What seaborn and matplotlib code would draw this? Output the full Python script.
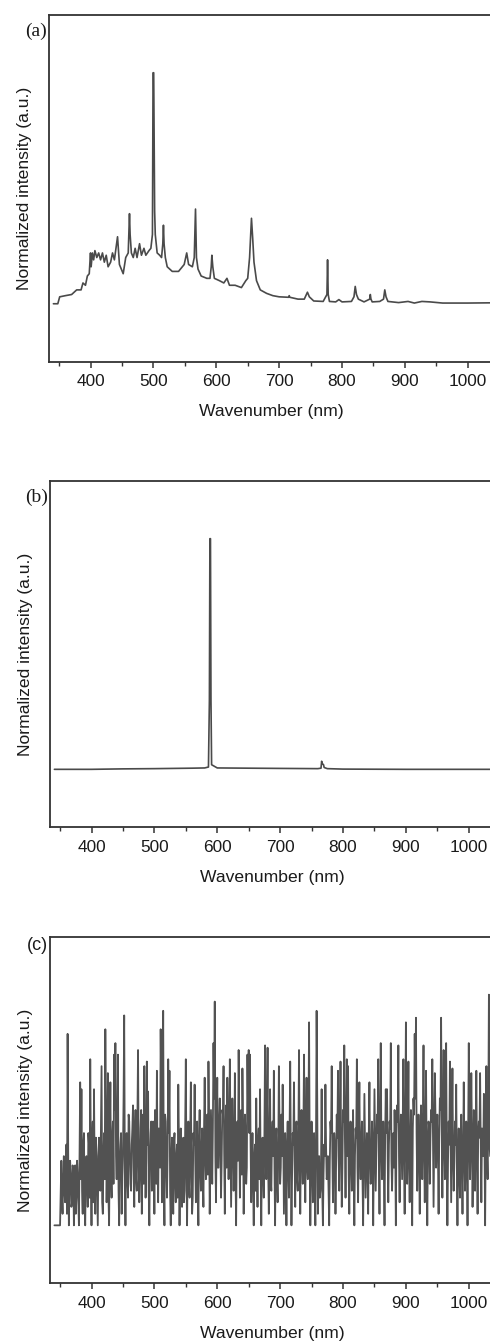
import numpy as np
import pandas as pd
import matplotlib
matplotlib.use("Agg")
import matplotlib.pyplot as plt
import seaborn as sns
from matplotlib.ticker import MultipleLocator

# ---------------- data ----------------
# Panel (a): broadband emission spectrum (wavelength nm, normalized intensity)
a_wl = [341, 348, 351, 360, 370, 378, 385, 388, 392, 395, 398, 400, 401, 403, 405, 407,
        410, 413, 416, 419, 422, 425, 428, 432, 435, 438, 441, 443, 446, 449, 452, 456,
        460, 461, 462, 463, 465, 468, 471, 474, 478, 481, 485, 488, 493, 496, 498.5, 499.5,
        500.5, 502, 503, 506, 510, 513, 515, 516, 517, 519, 522, 530, 540, 546, 549, 553,
        556, 562, 565, 567, 568.5, 571, 576, 585, 590, 592, 593, 594.5, 597, 605, 612, 617,
        621, 630, 640, 647, 650, 653, 656, 658, 660, 664, 670, 680, 690, 700, 715, 716,
        717, 730, 740, 745, 748, 755, 770, 776, 777, 778, 780, 790, 795, 800, 815, 819,
        821, 823, 826, 835, 844, 845, 846, 848, 860, 866, 868, 870, 873, 890, 905, 915,
        927, 940, 960, 1000, 1036]
a_int = [0.0, 0.0, 0.03, 0.035, 0.04, 0.06, 0.06, 0.09, 0.08, 0.12, 0.13, 0.22, 0.16, 0.22, 0.19, 0.23,
         0.20, 0.22, 0.19, 0.22, 0.18, 0.21, 0.16, 0.18, 0.22, 0.19, 0.25, 0.29, 0.17, 0.15, 0.13, 0.20,
         0.22, 0.30, 0.39, 0.30, 0.22, 0.20, 0.24, 0.20, 0.26, 0.21, 0.24, 0.21, 0.23, 0.24, 0.30, 1.0,
         1.0, 0.40, 0.30, 0.22, 0.21, 0.20, 0.26, 0.34, 0.26, 0.20, 0.16, 0.14, 0.14, 0.16, 0.17, 0.22,
         0.17, 0.16, 0.20, 0.41, 0.20, 0.15, 0.12, 0.11, 0.11, 0.16, 0.21, 0.16, 0.11, 0.10, 0.09, 0.11,
         0.08, 0.08, 0.07, 0.10, 0.11, 0.20, 0.37, 0.28, 0.18, 0.10, 0.06, 0.045, 0.035, 0.03, 0.028, 0.035,
         0.028, 0.02, 0.02, 0.05, 0.03, 0.012, 0.01, 0.04, 0.19, 0.04, 0.01, 0.008, 0.018, 0.008, 0.01, 0.03,
         0.075, 0.04, 0.02, 0.008, 0.02, 0.04, 0.02, 0.008, 0.01, 0.02, 0.06, 0.03, 0.01, 0.005, 0.01, 0.003,
         0.01, 0.008, 0.003, 0.003, 0.004]

# Panel (b): single Na line spectrum
b_wl = [341, 400, 450, 500, 560, 580, 586, 587.5, 588.3, 589.2, 590, 591, 600, 650, 700,
        760, 765, 766, 767, 769, 770, 775, 800, 900, 1000, 1036]
b_int = [0.0, 0.0, 0.002, 0.003, 0.005, 0.006, 0.01, 0.3, 1.0, 1.0, 0.3, 0.02, 0.006, 0.005, 0.004,
         0.003, 0.005, 0.035, 0.025, 0.02, 0.008, 0.003, 0.001, 0.0, 0.0, 0.0]

# Panel (c): noise-like spectrum sampled every 1 nm from 352 nm
# (even-nm samples and odd-nm samples listed separately), leading flat segment at 0
c_lead_wl = [341, 350]
c_lead_int = [0.0, 0.0]
c_start = 352
c_int_even = [   # 352, 354, ..., 1034
    0.28, 0.05, 0.30, 0.10, 0.35, 0.83, 0.00, 0.28, 0.08, 0.26,
    0.00, 0.26, 0.12, 0.22, 0.00, 0.62, 0.59, 0.05, 0.40, 0.00,
    0.30, 0.08, 0.35, 0.72, 0.00, 0.45, 0.59, 0.05, 0.30, 0.00,
    0.38, 0.15, 0.69, 0.05, 0.40, 0.85, 0.10, 0.66, 0.00, 0.62,
    0.12, 0.45, 0.74, 0.79, 0.20, 0.74, 0.00, 0.35, 0.05, 0.30,
    0.91, 0.00, 0.40, 0.12, 0.45, 0.18, 0.35, 0.52, 0.08, 0.50,
    0.15, 0.76, 0.10, 0.42, 0.05, 0.48, 0.69, 0.12, 0.71, 0.58,
    0.00, 0.40, 0.15, 0.45, 0.05, 0.38, 0.67, 0.10, 0.40, 0.85,
    0.10, 0.93, 0.00, 0.45, 0.12, 0.72, 0.67, 0.00, 0.38, 0.05,
    0.40, 0.10, 0.35, 0.61, 0.00, 0.42, 0.08, 0.38, 0.15, 0.72,
    0.00, 0.45, 0.12, 0.62, 0.05, 0.40, 0.61, 0.10, 0.45, 0.00,
    0.50, 0.15, 0.42, 0.08, 0.64, 0.20, 0.48, 0.71, 0.05, 0.50,
    0.18, 0.79, 0.97, 0.10, 0.64, 0.25, 0.55, 0.12, 0.50, 0.69,
    0.05, 0.52, 0.64, 0.20, 0.72, 0.08, 0.55, 0.15, 0.66, 0.00,
    0.45, 0.76, 0.12, 0.50, 0.68, 0.05, 0.48, 0.18, 0.74, 0.76,
    0.74, 0.10, 0.40, 0.00, 0.35, 0.55, 0.08, 0.42, 0.59, 0.00,
    0.38, 0.12, 0.78, 0.20, 0.77, 0.05, 0.59, 0.15, 0.45, 0.67,
    0.00, 0.42, 0.10, 0.69, 0.18, 0.48, 0.61, 0.05, 0.40, 0.00,
    0.45, 0.12, 0.71, 0.00, 0.40, 0.62, 0.08, 0.45, 0.15, 0.76,
    0.05, 0.50, 0.18, 0.74, 0.10, 0.64, 0.20, 0.88, 0.00, 0.45,
    0.10, 0.40, 0.00, 0.93, 0.05, 0.30, 0.15, 0.59, 0.00, 0.35,
    0.61, 0.20, 0.30, 0.00, 0.45, 0.69, 0.10, 0.40, 0.05, 0.48,
    0.67, 0.15, 0.71, 0.08, 0.50, 0.78, 0.12, 0.72, 0.69, 0.05,
    0.45, 0.15, 0.50, 0.00, 0.42, 0.72, 0.10, 0.62, 0.20, 0.45,
    0.00, 0.57, 0.12, 0.40, 0.05, 0.62, 0.18, 0.45, 0.00, 0.59,
    0.15, 0.48, 0.72, 0.05, 0.79, 0.20, 0.45, 0.00, 0.59, 0.59,
    0.10, 0.45, 0.79, 0.15, 0.40, 0.50, 0.00, 0.52, 0.78, 0.10,
    0.48, 0.20, 0.72, 0.05, 0.88, 0.18, 0.71, 0.10, 0.50, 0.00,
    0.55, 0.83, 0.90, 0.15, 0.48, 0.05, 0.52, 0.20, 0.78, 0.10,
    0.67, 0.00, 0.45, 0.18, 0.50, 0.72, 0.08, 0.66, 0.25, 0.48,
    0.05, 0.55, 0.90, 0.12, 0.76, 0.20, 0.79, 0.00, 0.45, 0.71,
    0.10, 0.68, 0.15, 0.45, 0.61, 0.00, 0.42, 0.12, 0.48, 0.05,
    0.62, 0.15, 0.45, 0.00, 0.79, 0.20, 0.66, 0.08, 0.50, 0.15,
    0.67, 0.05, 0.45, 0.66, 0.10, 0.40, 0.57, 0.00, 0.69, 0.20,
    1.00, 0.30,
]
c_int_odd = [   # 353, 355, ..., 1033
    0.12, 0.20, 0.15, 0.25, 0.05, 0.30, 0.18, 0.22, 0.10, 0.24,
    0.15, 0.05, 0.28, 0.10, 0.32, 0.20, 0.15, 0.35, 0.08, 0.25,
    0.18, 0.40, 0.12, 0.28, 0.35, 0.10, 0.22, 0.38, 0.15, 0.30,
    0.25, 0.42, 0.10, 0.30, 0.20, 0.45, 0.28, 0.12, 0.35, 0.22,
    0.38, 0.18, 0.50, 0.30, 0.42, 0.15, 0.28, 0.40, 0.20, 0.55,
    0.25, 0.35, 0.20, 0.48, 0.30, 0.15, 0.42, 0.25, 0.38, 0.20,
    0.45, 0.30, 0.22, 0.50, 0.35, 0.18, 0.42, 0.28, 0.35, 0.15,
    0.30, 0.45, 0.22, 0.35, 0.50, 0.18, 0.28, 0.42, 0.25, 0.55,
    0.35, 0.20, 0.48, 0.25, 0.30, 0.40, 0.15, 0.28, 0.22, 0.35,
    0.18, 0.30, 0.12, 0.38, 0.25, 0.20, 0.35, 0.10, 0.42, 0.22,
    0.30, 0.18, 0.40, 0.25, 0.12, 0.35, 0.28, 0.22, 0.15, 0.38,
    0.25, 0.32, 0.20, 0.42, 0.30, 0.38, 0.22, 0.45, 0.28, 0.35,
    0.42, 0.55, 0.30, 0.40, 0.25, 0.45, 0.35, 0.28, 0.48, 0.32,
    0.38, 0.25, 0.45, 0.35, 0.42, 0.30, 0.40, 0.28, 0.22, 0.35,
    0.28, 0.42, 0.35, 0.22, 0.45, 0.30, 0.38, 0.25, 0.48, 0.40,
    0.35, 0.25, 0.18, 0.30, 0.15, 0.28, 0.35, 0.20, 0.25, 0.30,
    0.22, 0.40, 0.32, 0.45, 0.25, 0.35, 0.20, 0.38, 0.30, 0.25,
    0.35, 0.20, 0.30, 0.42, 0.25, 0.30, 0.38, 0.22, 0.28, 0.35,
    0.25, 0.40, 0.30, 0.22, 0.35, 0.28, 0.42, 0.20, 0.38, 0.30,
    0.35, 0.28, 0.42, 0.30, 0.38, 0.25, 0.45, 0.32, 0.22, 0.30,
    0.25, 0.18, 0.35, 0.55, 0.20, 0.12, 0.25, 0.15, 0.22, 0.30,
    0.35, 0.22, 0.15, 0.28, 0.40, 0.32, 0.25, 0.35, 0.28, 0.38,
    0.30, 0.42, 0.35, 0.25, 0.45, 0.38, 0.40, 0.30, 0.22, 0.35,
    0.28, 0.35, 0.22, 0.30, 0.38, 0.25, 0.42, 0.30, 0.35, 0.20,
    0.30, 0.35, 0.25, 0.28, 0.40, 0.30, 0.22, 0.35, 0.28, 0.38,
    0.32, 0.40, 0.30, 0.45, 0.35, 0.28, 0.25, 0.38, 0.40, 0.30,
    0.35, 0.42, 0.28, 0.30, 0.25, 0.35, 0.40, 0.45, 0.30, 0.38,
    0.35, 0.45, 0.30, 0.42, 0.38, 0.40, 0.28, 0.35, 0.30, 0.42,
    0.48, 0.55, 0.40, 0.35, 0.30, 0.38, 0.35, 0.45, 0.32, 0.40,
    0.30, 0.35, 0.42, 0.38, 0.45, 0.40, 0.35, 0.48, 0.38, 0.30,
    0.38, 0.50, 0.42, 0.45, 0.35, 0.40, 0.30, 0.28, 0.35, 0.42,
    0.38, 0.30, 0.28, 0.35, 0.25, 0.30, 0.22, 0.35, 0.28, 0.30,
    0.35, 0.28, 0.30, 0.42, 0.38, 0.35, 0.40, 0.30, 0.35, 0.38,
    0.32, 0.40, 0.38, 0.35, 0.42, 0.30, 0.35, 0.40, 0.30, 0.45,
    0.35,
]

panel_labels = ["(a)", "(b)", "(c)"]
x_label = "Wavenumber (nm)"
y_label = "Normalized intensity (a.u.)"

# ---------------- style ----------------
sns.set_style("ticks")
plt.rcParams["font.family"] = ["Liberation Sans", "DejaVu Sans"]
plt.rcParams["axes.edgecolor"] = "#333333"
plt.rcParams["xtick.color"] = "#333333"

W, H = 490, 1341
fig = plt.figure(figsize=(W / 100, H / 100), dpi=100)

def frac_rect(left_px, top_px, bottom_px, xlim, px_per_nm):
    width_px = (xlim[1] - xlim[0]) * px_per_nm
    return [left_px / W, 1 - bottom_px / H, width_px / W, (bottom_px - top_px) / H]

xlim = (334, 1042)
ppn = 0.6288
ax_a = fig.add_axes(frac_rect(49, 15, 361.5, xlim, ppn))
ax_b = fig.add_axes(frac_rect(50, 481, 827, xlim, ppn))
ax_c = fig.add_axes(frac_rect(50, 937, 1283, xlim, ppn))

line_col = "#4a4a4a"

df_a = pd.DataFrame({"wl": a_wl, "I": a_int})
sns.lineplot(data=df_a, x="wl", y="I", ax=ax_a, color=line_col, linewidth=1.2,
             estimator=None, sort=False)

df_b = pd.DataFrame({"wl": b_wl, "I": b_int})
sns.lineplot(data=df_b, x="wl", y="I", ax=ax_b, color=line_col, linewidth=1.2,
             estimator=None, sort=False)

c_wl = list(c_lead_wl)
c_val = list(c_lead_int)
for i, ev in enumerate(c_int_even):
    c_wl.append(c_start + 2 * i)
    c_val.append(ev)
    if i < len(c_int_odd):
        c_wl.append(c_start + 2 * i + 1)
        c_val.append(c_int_odd[i])
df_c = pd.DataFrame({"wl": c_wl, "I": c_val})
sns.lineplot(data=df_c, x="wl", y="I", ax=ax_c, color="#525252", linewidth=1.3,
             estimator=None, sort=False)

for ax, lab in zip([ax_a, ax_b, ax_c], panel_labels):
    ax.set_xlim(*xlim)
    ax.set_ylim(-0.25, 1.25)
    ax.set_yticks([])
    ax.xaxis.set_major_locator(MultipleLocator(100))
    ax.xaxis.set_minor_locator(MultipleLocator(50))
    ax.tick_params(axis="x", which="major", direction="out", length=4, width=1.1,
                   labelsize=12.4, pad=5, labelcolor="#1a1a1a")
    ax.tick_params(axis="x", which="minor", direction="out", length=3, width=1.0)
    ax.set_xlabel(x_label, fontsize=12.6, labelpad=11, color="#1a1a1a")
    ax.set_ylabel(y_label, fontsize=12.6, labelpad=12, color="#1a1a1a")
    for s in ["left", "bottom", "top", "right"]:
        ax.spines[s].set_visible(True)
        ax.spines[s].set_linewidth(1.3)
    if lab == "(c)":
        ax.text(-0.004, 1.0, lab, transform=ax.transAxes, ha="right", va="top",
                fontsize=13, family=["Liberation Sans", "DejaVu Sans"], color="#1a1a1a")
    else:
        ax.text(-0.004, 0.978, lab, transform=ax.transAxes, ha="right", va="top",
                fontsize=14, family=["Liberation Serif", "DejaVu Serif"], color="#1a1a1a")

fig.savefig("out.png", dpi=100)
